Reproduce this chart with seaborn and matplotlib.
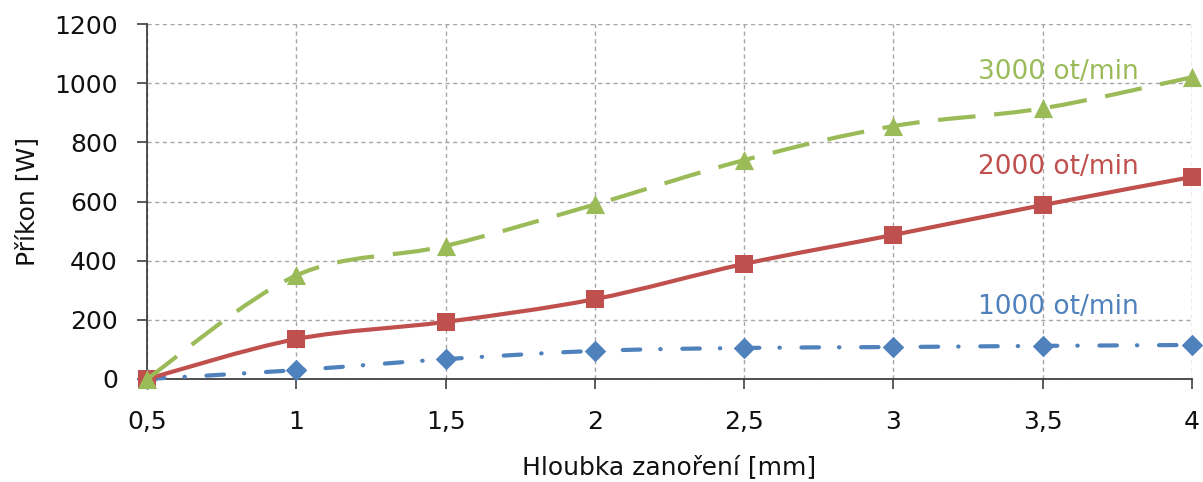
import numpy as np
import pandas as pd
import matplotlib
matplotlib.use("Agg")
import matplotlib.pyplot as plt
import seaborn as sns
from matplotlib.path import Path
from matplotlib.patches import PathPatch

# Data: power input [W] vs. immersion depth [mm] for three spindle speeds
depth = [0.5, 1, 1.5, 2, 2.5, 3, 3.5, 4]
depth_labels = ["0,5", "1", "1,5", "2", "2,5", "3", "3,5", "4"]
power_1000 = [0, 30, 67, 95, 105, 108, 112, 115]
power_2000 = [0, 135, 193, 270, 389, 487, 588, 683]
power_3000 = [0, 350, 450, 590, 740, 855, 915, 1020]
series_names = ["1000 ot/min", "2000 ot/min", "3000 ot/min"]
y_ticks = [0, 200, 400, 600, 800, 1000, 1200]

sns.set_theme(style="white")
plt.rcParams["font.family"] = ["DejaVu Sans"]
FS = 18

fig = plt.figure(figsize=(12.03, 4.82), dpi=100)
ax = fig.add_axes([0.1222, 0.2137, 0.8687, 0.7365])
ax.set_xlim(0.5, 4)
ax.set_ylim(0, 1200)

blue, red, green = "#4F81BD", "#C0504D", "#9BBB59"
styles = [
    dict(name=series_names[0], y=power_1000, color=blue, marker="D", s=120,
         ls=(0, (4.2, 4.8, 0.1, 5.2)), cap="round"),
    dict(name=series_names[1], y=power_2000, color=red, marker="s", s=150,
         ls="-", cap="round"),
    dict(name=series_names[2], y=power_3000, color=green, marker="^", s=190,
         ls=(0, (9, 4.5)), cap="butt"),
]

frame = pd.DataFrame({
    "depth": depth * 3,
    "power": power_1000 + power_2000 + power_3000,
    "series": np.repeat(series_names, len(depth)),
})


def smooth_path(xs, ys):
    """Bezier path through the points (Catmull-Rom style, screen-space scaled)."""
    sx, sy = 298.0, 355.0 / 1200.0
    px = np.asarray(xs, float) * sx
    py = np.asarray(ys, float) * sy
    pts = np.column_stack([px, py])
    n = len(pts)
    verts = [pts[0]]
    codes = [Path.MOVETO]
    for i in range(n - 1):
        p0 = pts[i - 1] if i > 0 else pts[i]
        p1 = pts[i]
        p2 = pts[i + 1]
        p3 = pts[i + 2] if i + 2 < n else pts[i + 1]
        c1 = p1 + (p2 - p0) / 6.0
        c2 = p2 - (p3 - p1) / 6.0
        verts += [c1, c2, p2]
        codes += [Path.CURVE4] * 3
    verts = np.array(verts)
    verts[:, 0] /= sx
    verts[:, 1] /= sy
    return Path(verts, codes)


for k, st in enumerate(styles):
    sub = frame[frame["series"] == st["name"]]
    patch = PathPatch(smooth_path(sub["depth"], sub["power"]), facecolor="none",
                      edgecolor=st["color"], linewidth=3.0, linestyle=st["ls"],
                      capstyle=st["cap"], joinstyle="round", zorder=3 + 2 * k,
                      clip_on=False)
    ax.add_patch(patch)
    sns.scatterplot(data=sub, x="depth", y="power", ax=ax, marker=st["marker"],
                    s=st["s"], color=st["color"], edgecolor=st["color"],
                    linewidth=0, zorder=4 + 2 * k, clip_on=False, legend=False)

# Series labels
label_x = 3.822
ax.text(label_x, 1038, series_names[2], ha="right", va="center", color=green, fontsize=19)
ax.text(label_x, 717, series_names[1], ha="right", va="center", color=red, fontsize=19)
ax.text(label_x, 243, series_names[0], ha="right", va="center", color=blue, fontsize=19)

# Axes, ticks and grid
ax.set_xticks(depth)
ax.set_xticklabels(depth_labels)
ax.set_yticks(y_ticks)
ax.set_yticklabels([str(v) for v in y_ticks])
ax.grid(True, linestyle=(0, (3, 2.5)), color="#a6a6a6", linewidth=1.0)
ax.set_axisbelow(True)
for side in ("top", "right"):
    ax.spines[side].set_visible(False)
for side in ("left", "bottom"):
    ax.spines[side].set_color("#404040")
    ax.spines[side].set_linewidth(1.3)
ax.tick_params(axis="both", direction="out", length=7, width=1.2, color="#404040",
               labelsize=FS, labelcolor="#111111")
ax.tick_params(axis="x", pad=15, bottom=True)
ax.tick_params(axis="y", pad=14, left=True)

ax.set_xlabel("Hloubka zanoření [mm]", fontsize=FS, color="#111111")
ax.set_ylabel("Příkon [W]", fontsize=FS, color="#111111")
ax.xaxis.set_label_coords(0.5, -0.215)
ax.yaxis.set_label_coords(-0.103, 0.5)

fig.savefig("out.png", dpi=100)
